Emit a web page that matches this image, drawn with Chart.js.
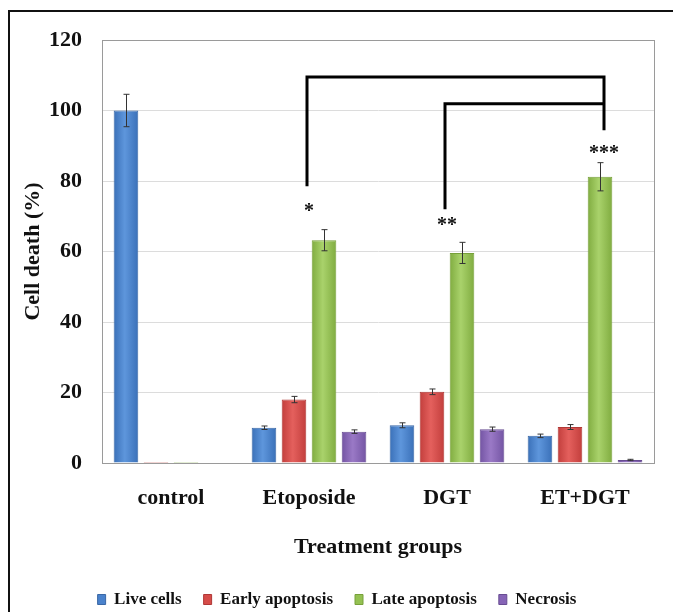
<!DOCTYPE html>
<html lang="en">
<head>
    <meta charset="UTF-8">
    <title>Cell death by treatment group</title>
    <script src="https://cdn.jsdelivr.net/npm/chart.js"></script>
    <style>
        body { margin: 0; overflow: hidden; background: #fff; }
        #wrap { position: relative; width: 673px; height: 612px; }
        #frame { position: absolute; left: 8px; top: 10px; width: 800px; height: 800px;
                 border: 2px solid #111; pointer-events: none; }
    </style>
</head>
<body>
<div id="wrap">
    <canvas id="myChart" width="673" height="612"></canvas>
    <div id="frame"></div>
</div>
<script>
    // Donnees
    const categories = ['control', 'Etoposide', 'DGT', 'ET+DGT'];
    const liveCells = [100, 10.0, 10.7, 7.7];
    const liveErr = [4.6, 0.5, 0.7, 0.5];
    const earlyApoptosis = [0.3, 18.0, 20.2, 10.2];
    const earlyErr = [0, 0.9, 0.8, 0.7];
    const lateApoptosis = [0.3, 63.2, 59.6, 81.2];
    const lateErr = [0, 3.0, 3.0, 4.0];
    const necrosis = [0, 8.9, 9.6, 0.85];
    const necrosisErr = [0, 0.5, 0.6, 0.2];

    const yTicks = [0, 20, 40, 60, 80, 100, 120];

    // Significativite : etoiles et crochets (valeurs en %)
    const stars = ['', '*', '**', '***'];
    const starY = [null, 72, 68, 88.5];
    const brackets = [
        { from: 1, to: 3, top: 109.5, leftEnd: 78.5, rightEnd: 94.4 },
        { from: 2, to: 3, top: 101.9, leftEnd: 72, rightEnd: null }
    ];

    // couleurs : bord, centre
    const shades = [
        ['#3a70b8', '#5e96dc'],
        ['#c23e3c', '#e4605d'],
        ['#80ac40', '#a9d26b'],
        ['#7354a3', '#9a79c6']
    ];

    const serif = "'Liberation Serif', 'Times New Roman', serif";
    Chart.defaults.font.family = serif;
    Chart.defaults.font.weight = 'bold';
    Chart.defaults.color = '#111';

    const errors = [liveErr, earlyErr, lateErr, necrosisErr];

    const extras = {
        id: 'extras',
        beforeDatasetsDraw(chart) {
            const a = chart.chartArea, c = chart.ctx;
            c.save();
            c.strokeStyle = '#9a9a9a';
            c.lineWidth = 1;
            c.strokeRect(a.left + 0.5, a.top + 0.5, a.right - a.left, a.bottom - a.top);
            c.restore();
            // degrade horizontal sur chaque barre
            shades.forEach(function(s, i) {
                chart.getDatasetMeta(i).data.forEach(function(bar) {
                    const g = c.createLinearGradient(bar.x - bar.width / 2, 0, bar.x + bar.width / 2, 0);
                    g.addColorStop(0, s[0]);
                    g.addColorStop(0.45, s[1]);
                    g.addColorStop(1, s[0]);
                    bar.options = Object.assign({}, bar.options, { backgroundColor: g });
                });
            });
        },
        afterDatasetsDraw(chart) {
            const c = chart.ctx;
            const y = chart.scales.y, x = chart.scales.x;
            // barres d'erreur
            c.save();
            c.strokeStyle = '#333';
            c.lineWidth = 1;
            errors.forEach(function(errs, i) {
                const meta = chart.getDatasetMeta(i);
                const vals = chart.data.datasets[i].data;
                errs.forEach(function(e, j) {
                    if (!e) return;
                    const px = Math.round(meta.data[j].x) + 0.5;
                    const t = y.getPixelForValue(vals[j] + e);
                    const b = y.getPixelForValue(vals[j] - e);
                    c.beginPath();
                    c.moveTo(px, t); c.lineTo(px, b);
                    c.moveTo(px - 3, t); c.lineTo(px + 3, t);
                    c.moveTo(px - 3, b); c.lineTo(px + 3, b);
                    c.stroke();
                });
            });
            c.restore();

            // crochets
            const green = chart.getDatasetMeta(2);
            c.save();
            c.strokeStyle = '#000';
            c.lineWidth = 3;
            brackets.forEach(function(br) {
                const x1 = x.getPixelForValue(br.from) - 2;
                const x2 = green.data[br.to].x + 4;
                c.beginPath();
                c.moveTo(x1, y.getPixelForValue(br.leftEnd));
                c.lineTo(x1, y.getPixelForValue(br.top));
                c.lineTo(x2, y.getPixelForValue(br.top));
                if (br.rightEnd !== null) c.lineTo(x2, y.getPixelForValue(br.rightEnd));
                c.stroke();
            });
            c.restore();

            // etoiles
            c.save();
            c.fillStyle = '#111';
            c.font = 'bold 20px ' + serif;
            c.textAlign = 'center';
            c.textBaseline = 'middle';
            stars.forEach(function(s, j) {
                if (!s) return;
                const px = j === 3 ? green.data[j].x + 4 : x.getPixelForValue(j);
                c.fillText(s, px, y.getPixelForValue(starY[j]) + 3);
            });
            c.restore();
        }
    };

    const ctx = document.getElementById('myChart').getContext('2d');
    const myChart = new Chart(ctx, {
        type: 'bar',
        data: {
            labels: categories,
            datasets: [
                { label: 'Live cells', data: liveCells, backgroundColor: '#4a82cc', borderColor: '#3a68a6', borderWidth: 1 },
                { label: 'Early apoptosis', data: earlyApoptosis, backgroundColor: '#d64c49', borderColor: '#b03836', borderWidth: 1 },
                { label: 'Late apoptosis', data: lateApoptosis, backgroundColor: '#94c152', borderColor: '#77a03a', borderWidth: 1 },
                { label: 'Necrosis', data: necrosis, backgroundColor: '#8664b6', borderColor: '#684c92', borderWidth: 1 }
            ]
        },
        options: {
            responsive: false,
            animation: false,
            categoryPercentage: 0.87,
            barPercentage: 0.82,
            layout: { padding: { top: 40, right: 19, left: 20, bottom: -6 } },
            plugins: {
                tooltip: { enabled: false },
                legend: {
                    position: 'bottom',
                    labels: {
                        boxWidth: 8,
                        boxHeight: 10,
                        padding: 22,
                        color: '#111',
                        font: { size: 17, weight: 'bold', family: serif }
                    }
                }
            },
            scales: {
                x: {
                    grid: { display: false },
                    border: { color: '#9a9a9a' },
                    ticks: { padding: 14, font: { size: 22, weight: 'bold' }, color: '#111' },
                    title: { display: true, text: 'Treatment groups', padding: { top: 10, bottom: 8 },
                             font: { size: 22, weight: 'bold' }, color: '#111' },
                    afterFit(scale) { scale.height = 106; }
                },
                y: {
                    min: 0,
                    max: 120,
                    afterBuildTicks(scale) { scale.ticks = yTicks.map(function(v) { return { value: v }; }); },
                    grid: { color: '#dcdcdc', drawTicks: false },
                    border: { color: '#8a8a8a' },
                    ticks: { padding: 20, font: { size: 22, weight: 'bold' }, color: '#111' },
                    title: { display: true, text: 'Cell death (%)', padding: { top: 0, bottom: 0 },
                             font: { size: 22, weight: 'bold' }, color: '#111' },
                    afterFit(scale) { scale.width = 82; }
                }
            }
        },
        plugins: [extras]
    });
</script>
</body>
</html>
